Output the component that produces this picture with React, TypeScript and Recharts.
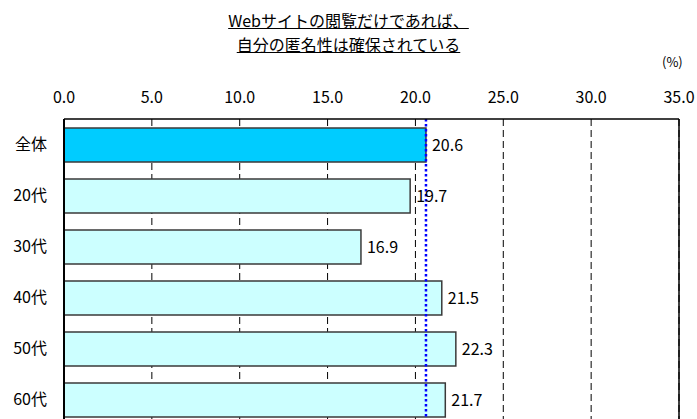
import { BarChart, Bar, XAxis, YAxis, CartesianGrid, Cell, LabelList, ReferenceLine } from 'recharts'

const groups = ['全体', '20代', '30代', '40代', '50代', '60代']
const shares = [20.6, 19.7, 16.9, 21.5, 22.3, 21.7]
const xTicks = [0, 5, 10, 15, 20, 25, 30, 35]
const average = 20.6

const data = groups.map((g, i) => ({ group: g, value: shares[i] }))

const font = '"Noto Sans CJK JP", "Noto Sans", sans-serif'

export default function App() {
  return (
    <div style={{ position: 'absolute', left: 0, top: 0, width: 697, height: 419, overflow: 'hidden', background: '#fff', fontFamily: font }}>
      <div style={{ position: 'absolute', left: 0, width: 697, top: 8, textAlign: 'center', fontSize: 16, lineHeight: '24px', color: '#000' }}>
        <div><span style={{ textDecoration: 'underline' }}>Webサイトの閲覧だけであれば、</span></div>
        <div><span style={{ textDecoration: 'underline' }}>自分の匿名性は確保されている</span></div>
      </div>
      <div style={{ position: 'absolute', left: 662, top: 52, fontSize: 13, color: '#000' }}>(%)</div>
      <BarChart
        width={697}
        height={440}
        data={data}
        layout="vertical"
        margin={{ top: 89, right: 18, bottom: 15, left: 0 }}
        barSize={34}
      >
        {/* dashed verticals behind the bars */}
        <CartesianGrid horizontal={false} stroke="#000" strokeDasharray="7 4" />
        <XAxis
          type="number"
          orientation="top"
          domain={[0, 35]}
          ticks={xTicks}
          tickFormatter={(v: number) => v.toFixed(1)}
          axisLine={{ stroke: '#000', strokeWidth: 1.5 }}
          tickLine={false}
          tickMargin={10}
          height={30}
          tick={{ fill: '#000', fontSize: 16, fontFamily: font }}
        />
        <YAxis
          type="category"
          dataKey="group"
          width={64}
          axisLine={{ stroke: '#000', strokeWidth: 2 }}
          tickLine={false}
          tickMargin={11}
          tick={{ fill: '#000', fontSize: 16, fontFamily: font }}
        />
        <ReferenceLine x={35} stroke="#000" strokeWidth={1.5} />
        <Bar dataKey="value" stroke="#3a3a3a" strokeWidth={1.5} isAnimationActive={false}>
          {data.map((d, i) => (
            <Cell key={d.group} fill={i === 0 ? '#00CCFF' : '#CCFFFF'} />
          ))}
          <LabelList dataKey="value" position="right" offset={6} fill="#000" fontSize={16} fontFamily={font} formatter={(v: number) => v.toFixed(1)} />
        </Bar>
        {/* overall average marker */}
        <ReferenceLine x={average} stroke="#0000FF" strokeWidth={2.5} strokeDasharray="2.5 2.5" />
      </BarChart>
    </div>
  )
}
